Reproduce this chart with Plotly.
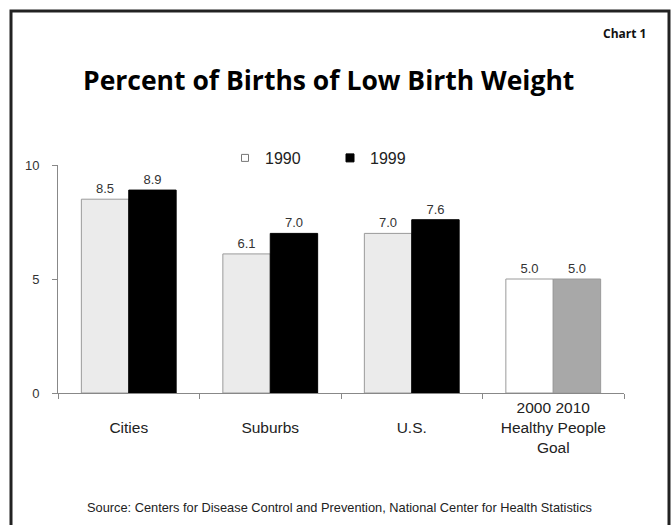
import plotly.graph_objects as go

categories = ["Cities", "Suburbs", "U.S.", "Goal"]
tick_labels = ["<br>Cities", "<br>Suburbs", "<br>U.S.", "2000 2010<br>Healthy People<br>Goal"]
values_1990 = [8.5, 6.1, 7.0, 5.0]
values_1999 = [8.9, 7.0, 7.6, 5.0]
series_names = ["1990", "1999"]

colors_1990 = ["#ebebeb", "#ebebeb", "#ebebeb", "#ffffff"]
colors_1999 = ["#000000", "#000000", "#000000", "#a8a8a8"]
lines_1990 = ["#9a9a9a"] * 4
lines_1999 = ["#000000", "#000000", "#000000", "#9a9a9a"]

W, H = 671, 525
# plot area in page pixels
PX0, PX1, PY0, PY1 = 58, 624, 165, 393
L = PX0
R = W - PX1
T = PY0
B = H - PY1
pw, ph = PX1 - PX0, PY1 - PY0

def px_x(p):
    return (p - PX0) / pw

def px_y(p):
    return (PY1 - p) / ph

txtfont = dict(family="Liberation Sans, Arial, sans-serif", size=13, color="#333333")

fig = go.Figure()
fig.add_trace(go.Bar(
    x=categories, y=values_1990, name=series_names[0], showlegend=False,
    marker=dict(color=colors_1990, line=dict(color=lines_1990, width=1)),
    text=[f"{v:.1f}" for v in values_1990], textposition="outside",
    textfont=txtfont, cliponaxis=False,
))
fig.add_trace(go.Bar(
    x=categories, y=values_1999, name=series_names[1], showlegend=False,
    marker=dict(color=colors_1999, line=dict(color=lines_1999, width=1)),
    text=[f"{v:.1f}" for v in values_1999], textposition="outside",
    textfont=txtfont, cliponaxis=False,
))
# legend entries
fig.add_trace(go.Scatter(
    x=[None], y=[None], mode="markers", name=series_names[0],
    marker=dict(symbol="square", size=7, color="#ffffff", line=dict(color="#777777", width=1)),
))
fig.add_trace(go.Scatter(
    x=[None], y=[None], mode="markers", name=series_names[1],
    marker=dict(symbol="square", size=8, color="#000000", line=dict(color="#000000", width=1)),
))

fig.update_layout(
    width=W, height=H,
    margin=dict(l=L, r=R, t=T, b=B),
    paper_bgcolor="#ffffff", plot_bgcolor="#ffffff",
    barmode="group", bargap=0.33, bargroupgap=0,
    font=dict(family="Liberation Sans, Arial, sans-serif", color="#333333"),
    showlegend=True,
    legend=dict(
        orientation="h", x=px_x(225), xanchor="left", y=px_y(158), yanchor="middle",
        font=dict(size=16, color="#222222"), entrywidth=60, entrywidthmode="pixels",
        bgcolor="rgba(0,0,0,0)",
    ),
    xaxis=dict(
        type="category", tickmode="array", tickvals=categories, ticktext=tick_labels,
        tickson="boundaries", ticks="outside", ticklen=5, tickcolor="#888888",
        showline=True, linecolor="#888888", linewidth=1, showgrid=False,
        tickfont=dict(size=15.5, color="#222222"), zeroline=False,
    ),
    yaxis=dict(
        range=[0, 10], tickvals=[0, 5, 10], ticks="outside", ticklen=5, tickcolor="#888888",
        showline=True, linecolor="#888888", linewidth=1, showgrid=False, zeroline=False,
        tickfont=dict(size=13, color="#333333"), ticklabelstandoff=10,
    ),
    shapes=[dict(
        type="rect", xref="paper", yref="paper",
        x0=px_x(11), x1=px_x(669), y0=px_y(545), y1=px_y(11),
        line=dict(color="#222222", width=3), fillcolor="rgba(0,0,0,0)", layer="below",
    )],
    annotations=[
        dict(text="<b>Percent of Births of Low Birth Weight</b>", xref="paper", yref="paper",
             x=px_x(328), y=px_y(80), xanchor="center", yanchor="middle", showarrow=False,
             font=dict(family="Open Sans, sans-serif", size=26.5, color="#000000")),
        dict(text="<b>Chart 1</b>", xref="paper", yref="paper",
             x=px_x(648), y=px_y(33), xanchor="right", yanchor="middle", showarrow=False,
             font=dict(family="Open Sans, sans-serif", size=12, color="#111111")),
        dict(text="Source: Centers for Disease Control and Prevention, National Center for Health Statistics",
             xref="paper", yref="paper", x=px_x(339), y=px_y(507), xanchor="center", yanchor="middle",
             showarrow=False, font=dict(size=12.8, color="#222222")),
    ],
)

fig.write_html("out.html", config={"displayModeBar": False},
               post_script="document.body.style.margin='0';")
